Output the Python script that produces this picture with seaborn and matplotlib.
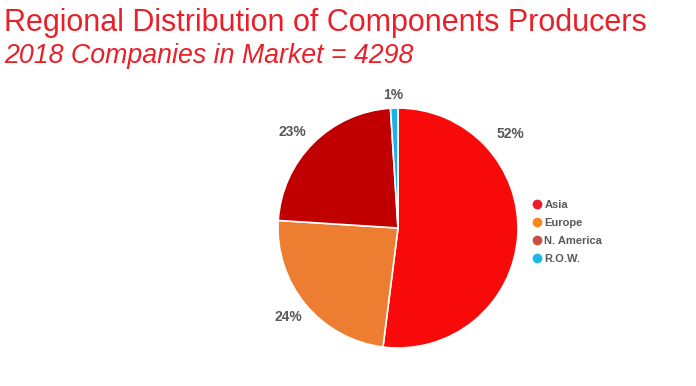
import numpy as np
import matplotlib
matplotlib.use("Agg")
import matplotlib.pyplot as plt
from matplotlib.lines import Line2D
import seaborn as sns

regions = ["Asia", "Europe", "N. America", "R.O.W."]
shares = [52, 24, 23, 1]
wedge_colors = ["#F80A0A", "#ED7D31", "#C00000", "#1AB2E8"]
legend_colors = ["#EE1C25", "#F7891F", "#C9503F", "#1BB8EE"]

title = "Regional Distribution of Components Producers"
subtitle = "2018 Companies in Market = 4298"

sns.set_theme(style="white")
plt.rcParams["font.family"] = ["Liberation Sans", "DejaVu Sans"]

fig = plt.figure(figsize=(6.96, 3.86), dpi=100)
ax = fig.add_axes([248 / 696, 8 / 386, 300 / 696, 300 / 386])

wedges, texts, autotexts = ax.pie(
    shares, colors=wedge_colors, startangle=90, counterclock=False,
    autopct="%d%%", pctdistance=1.23,
    wedgeprops=dict(edgecolor="white", linewidth=1.2),
    textprops=dict(color="#595959", fontsize=10, fontweight="bold"))
# label spots follow the original (Asia's is moved to the upper right)
for t, ang, dist in zip(autotexts, [40, -141, 138, 92], [1.22, 1.18, 1.19, 1.11]):
    a = np.deg2rad(ang)
    t.set_position((dist * np.cos(a), dist * np.sin(a)))
ax.set_xlim(-1.25, 1.25)
ax.set_ylim(-1.25, 1.25)
ax.set_aspect("equal")

handles = [Line2D([], [], marker="o", linestyle="", markersize=6,
                  markerfacecolor=c, markeredgecolor=c) for c in legend_colors]
leg = fig.legend(handles, regions, loc="upper left", bbox_to_anchor=(516 / 696, 1 - 190 / 386),
                 frameon=False, handletextpad=-0.35, labelspacing=0.72,
                 prop=dict(size=8, weight="bold"))
for t in leg.get_texts():
    t.set_color("#595959")

fig.text(4 / 696, 1 - 31 / 386, title, color="#E8202A", fontsize=22)
fig.text(4 / 696, 1 - 63 / 386, subtitle, color="#E8202A", fontsize=19.3, style="italic")

fig.savefig("out.png", dpi=100)
